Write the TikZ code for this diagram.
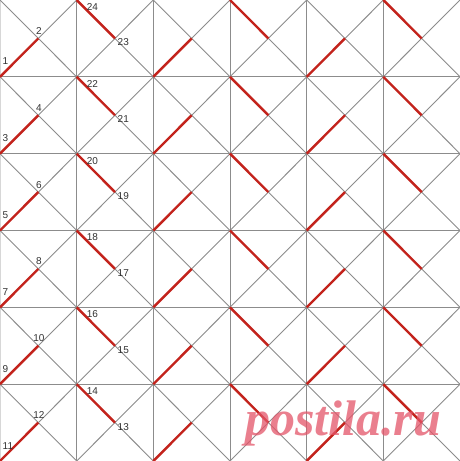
\documentclass[tikz,border=0pt]{standalone}
\usepackage{fontspec}
\setmainfont{Liberation Sans}
\newfontfamily\wmfont{Liberation Serif}
\definecolor{gridgray}{RGB}{140,140,140}
\definecolor{edgegray}{RGB}{215,215,215}
\definecolor{redline}{RGB}{195,35,28}
\definecolor{labelgray}{RGB}{50,50,50}
\definecolor{wmred}{RGB}{228,85,105}
\tikzset{
  gline/.style={draw=gridgray,line width=0.9bp},
  rline/.style={draw=redline,line width=2.4bp},
  lbl/.style={inner sep=0pt,text=labelgray,font=\fontsize{10bp}{11bp}\selectfont},
  wm/.style={inner sep=0pt,text=wmred,opacity=0.75,font=\wmfont\bfseries\itshape\fontsize{50bp}{52bp}\selectfont}
}
\begin{document}
\begin{tikzpicture}[x=1bp,y=-1bp]
\def\W{76.667}
\def\H{76.833}
\useasboundingbox (0,0) rectangle (460,461);
\fill[white] (0,0) rectangle (460,461);
% grid points and centers
\foreach \i in {0,...,6}{
  \foreach \j in {0,...,6}{
    \coordinate (p\i-\j) at ({\i*\W},{\j*\H});
  }
}
\foreach \i in {0,...,5}{
  \foreach \j in {0,...,5}{
    \coordinate (c\i-\j) at ({(\i+0.5)*\W},{(\j+0.5)*\H});
  }
}
% outer light border
\draw[edgegray,line width=1bp] (p0-0) rectangle (p6-6);
% grid lines
\foreach \i in {1,...,5}{
  \draw[gline] (p\i-0) -- (p\i-6);
  \draw[gline] (p0-\i) -- (p6-\i);
}
% diagonals
\foreach \i [evaluate=\i as \ii using int(\i+1)] in {0,...,5}{
  \foreach \j [evaluate=\j as \jj using int(\j+1)] in {0,...,5}{
    \draw[gline] (p\i-\j) -- (p\ii-\jj);
    \draw[gline] (p\ii-\j) -- (p\i-\jj);
  }
}
% red segments
\foreach \i in {0,2,4}{
  \foreach \j [evaluate=\j as \jj using int(\j+1)] in {0,...,5}{
    \draw[rline] (p\i-\jj) -- (c\i-\j);
  }
}
\foreach \i in {1,3,5}{
  \foreach \j in {0,...,5}{
    \draw[rline] (p\i-\j) -- (c\i-\j);
  }
}
% labels
\foreach \j [evaluate=\j as \jj using int(\j+1),
             evaluate=\j as \a using int(2*\j+1),
             evaluate=\j as \b using int(2*\j+2),
             evaluate=\j as \c using int(24-2*\j),
             evaluate=\j as \d using int(23-2*\j)] in {0,...,5}{
  \node[lbl,anchor=base west] (l\a) at ([shift={(2.5,-12)}]p0-\jj) {\a};
  \node[lbl,anchor=base] (l\b) at ([shift={(0.5,-4)}]c0-\j) {\b};
  \node[lbl,anchor=base west] (l\c) at ([shift={(10,10.5)}]p1-\j) {\c};
  \node[lbl,anchor=base west] (l\d) at ([shift={(2.5,7.5)}]c1-\j) {\d};
}
% watermark
\node[wm,anchor=base] (wmark) at (343,435) {postila.ru};
\end{tikzpicture}
\end{document}
